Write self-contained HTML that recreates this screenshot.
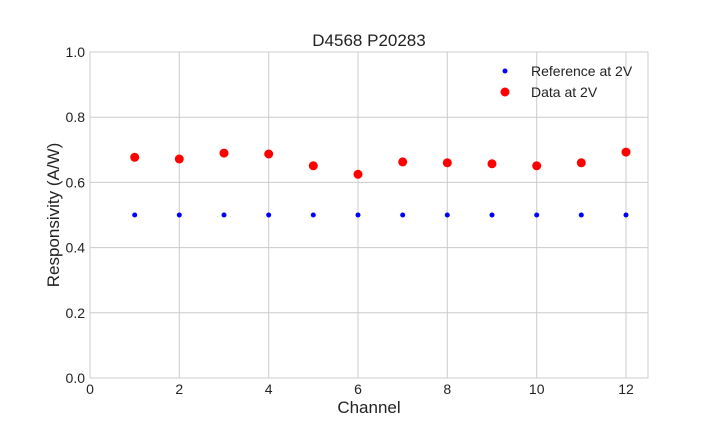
<!DOCTYPE html>
<html><head><style>body{margin:0;background:#fff}svg text{font-family:"Liberation Sans",sans-serif;fill:#222}</style></head>
<body>
<svg width="720" height="432" xmlns="http://www.w3.org/2000/svg">
<rect width="720" height="432" fill="#fff"/>
<g stroke="#cccccc" stroke-width="1">
<line x1="179.3" y1="52" x2="179.3" y2="378"/>
<line x1="268.7" y1="52" x2="268.7" y2="378"/>
<line x1="358" y1="52" x2="358" y2="378"/>
<line x1="447.3" y1="52" x2="447.3" y2="378"/>
<line x1="536.7" y1="52" x2="536.7" y2="378"/>
<line x1="626" y1="52" x2="626" y2="378"/>
<line x1="90" y1="312.8" x2="648" y2="312.8"/>
<line x1="90" y1="247.6" x2="648" y2="247.6"/>
<line x1="90" y1="182.4" x2="648" y2="182.4"/>
<line x1="90" y1="117.2" x2="648" y2="117.2"/>
</g>
<rect x="90" y="52" width="558" height="326" fill="none" stroke="#cccccc" stroke-width="1"/>
<g font-size="14" text-anchor="middle">
<text x="90" y="394">0</text><text x="179.3" y="394">2</text><text x="268.7" y="394">4</text><text x="358" y="394">6</text><text x="447.3" y="394">8</text><text x="536.7" y="394">10</text><text x="626" y="394">12</text>
</g>
<g font-size="14" text-anchor="end">
<text x="85" y="383">0.0</text><text x="85" y="318">0.2</text><text x="85" y="252.5">0.4</text><text x="85" y="187.5">0.6</text><text x="85" y="122">0.8</text><text x="85" y="57">1.0</text>
</g>
<text x="369" y="413" font-size="17" text-anchor="middle">Channel</text>
<text transform="translate(59,215) rotate(-90)" font-size="17" text-anchor="middle">Responsivity (A/W)</text>
<text x="369" y="46" font-size="17" text-anchor="middle">D4568 P20283</text>
<g fill="#0000ff">
<circle cx="134.7" cy="215" r="2.5"/><circle cx="179.3" cy="215" r="2.5"/><circle cx="224" cy="215" r="2.5"/><circle cx="268.7" cy="215" r="2.5"/><circle cx="313.3" cy="215" r="2.5"/><circle cx="358" cy="215" r="2.5"/><circle cx="402.7" cy="215" r="2.5"/><circle cx="447.3" cy="215" r="2.5"/><circle cx="492" cy="215" r="2.5"/><circle cx="536.7" cy="215" r="2.5"/><circle cx="581.3" cy="215" r="2.5"/><circle cx="626" cy="215" r="2.5"/>
</g>
<g fill="#ff0000">
<circle cx="134.7" cy="157.3" r="4.5"/><circle cx="179.3" cy="159" r="4.5"/><circle cx="224" cy="153.1" r="4.5"/><circle cx="268.7" cy="154" r="4.5"/><circle cx="313.3" cy="165.8" r="4.5"/><circle cx="358" cy="174.3" r="4.5"/><circle cx="402.7" cy="161.9" r="4.5"/><circle cx="447.3" cy="162.8" r="4.5"/><circle cx="492" cy="163.8" r="4.5"/><circle cx="536.7" cy="165.8" r="4.5"/><circle cx="581.3" cy="162.8" r="4.5"/><circle cx="626" cy="152.1" r="4.5"/>
</g>
<circle cx="505" cy="71" r="2.5" fill="#0000ff"/>
<circle cx="505" cy="92" r="4.5" fill="#ff0000"/>
<text x="531" y="76" font-size="14">Reference at 2V</text>
<text x="531" y="97" font-size="14">Data at 2V</text>
</svg>
</body></html>
